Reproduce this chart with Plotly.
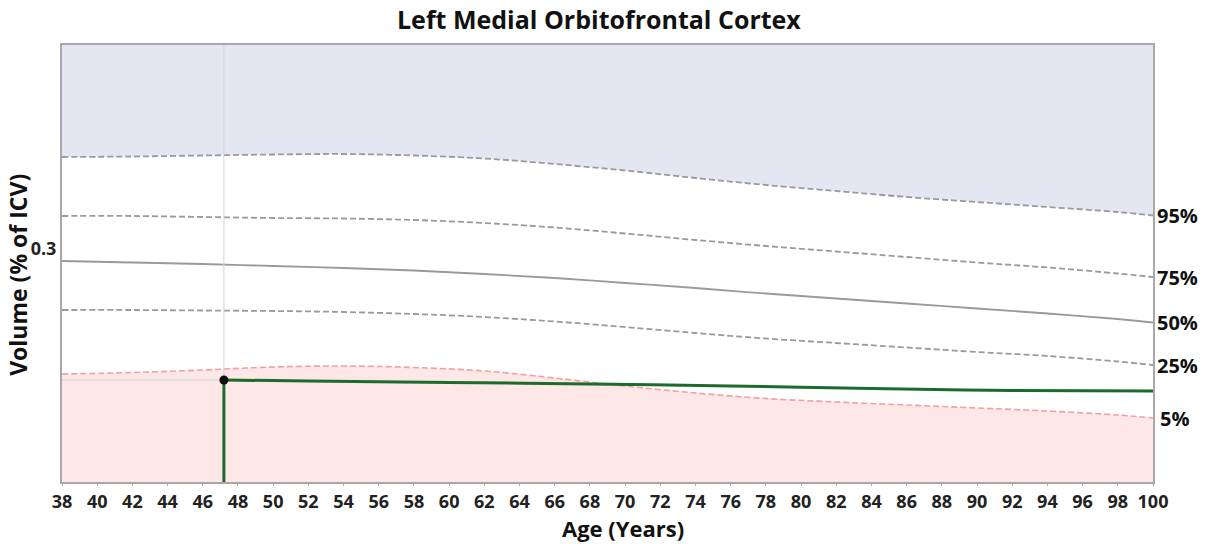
import plotly.graph_objects as go

# ---------------- data ----------------
ages = [38, 42, 46, 50, 54, 58, 62, 66, 70, 74, 78, 82, 86, 90, 94, 98, 100]
p95 = [0.3368, 0.3370, 0.3374, 0.3378, 0.3380, 0.3374, 0.3362, 0.3340, 0.3314,
       0.3284, 0.3256, 0.3232, 0.3208, 0.3188, 0.3168, 0.3148, 0.3134]
p75 = [0.3132, 0.3132, 0.3128, 0.3124, 0.3122, 0.3116, 0.3104, 0.3086, 0.3062,
       0.3036, 0.3012, 0.2990, 0.2968, 0.2946, 0.2926, 0.2902, 0.2888]
p50 = [0.2952, 0.2946, 0.2940, 0.2932, 0.2924, 0.2914, 0.2900, 0.2884, 0.2864,
       0.2844, 0.2822, 0.2802, 0.2782, 0.2762, 0.2742, 0.2720, 0.2706]
p25 = [0.2756, 0.2756, 0.2754, 0.2752, 0.2748, 0.2740, 0.2728, 0.2710, 0.2688,
       0.2664, 0.2642, 0.2624, 0.2606, 0.2588, 0.2572, 0.2550, 0.2536]
p05 = [0.2500, 0.2506, 0.2516, 0.2528, 0.2532, 0.2526, 0.2512, 0.2484, 0.2452,
       0.2424, 0.2402, 0.2388, 0.2376, 0.2364, 0.2352, 0.2336, 0.2324]

patient_ages = [47.2, 52, 60, 68, 76, 84, 92, 100]
patient_traj = [0.2476, 0.2472, 0.2466, 0.2460, 0.2452, 0.2442, 0.2434, 0.2432]
patient_age = 47.2
patient_vol = 0.2476

pct_labels = ["95%", "75%", "50%", "25%", "5%"]
x_ticks = list(range(38, 101, 2))
y_tickvals = [0.3]
y_ticktext = ["0.3"]

Y_MIN, Y_MAX = 0.2068, 0.3816
X_MIN, X_MAX = 38, 100

FONT = "Open Sans"
GRAY = "#9a9a9a"
GUIDE = "#d4d4d4"
DASH = "6px,3px"

fig = go.Figure()

# blue band above 95%
fig.add_trace(go.Scatter(x=ages, y=[Y_MAX] * len(ages), mode="lines",
                         line=dict(width=0), hoverinfo="skip", showlegend=False))
fig.add_trace(go.Scatter(x=ages, y=p95, mode="lines", fill="tonexty", fillcolor="#e4e7f1",
                         line=dict(color=GRAY, width=1.8, dash=DASH, shape="spline"),
                         showlegend=False))
# red band below 5%
fig.add_trace(go.Scatter(x=ages, y=p05, mode="lines", fill="tozeroy", fillcolor="#fde7e7",
                         line=dict(color="#f2a0a0", width=1.6, dash=DASH, shape="spline"),
                         showlegend=False))
for vals, dash in [(p75, DASH), (p50, "solid"), (p25, DASH)]:
    fig.add_trace(go.Scatter(x=ages, y=vals, mode="lines",
                             line=dict(color=GRAY, width=1.8, dash=dash, shape="spline"),
                             showlegend=False))

# guide lines at patient (as traces so they sit above the fills)
fig.add_trace(go.Scatter(x=[patient_age, patient_age], y=[Y_MIN, Y_MAX], mode="lines",
                         line=dict(color=GUIDE, width=1), hoverinfo="skip", showlegend=False))
fig.add_trace(go.Scatter(x=[X_MIN, patient_age], y=[patient_vol, patient_vol], mode="lines",
                         line=dict(color=GUIDE, width=1), hoverinfo="skip", showlegend=False))

# patient trajectory
fig.add_trace(go.Scatter(x=[patient_age, patient_age], y=[Y_MIN, patient_vol], mode="lines",
                         line=dict(color="#1d6b2c", width=3), showlegend=False))
fig.add_trace(go.Scatter(x=patient_ages, y=patient_traj, mode="lines",
                         line=dict(color="#1d6b2c", width=3, shape="spline"), showlegend=False))
fig.add_trace(go.Scatter(x=[patient_age], y=[patient_vol], mode="markers",
                         marker=dict(color="#111", size=9), showlegend=False))

# percentile labels
for lab, vals in zip(pct_labels, [p95, p75, p50, p25, p05]):
    fig.add_annotation(x=X_MAX, y=vals[-1], xref="x", yref="y", text=f"<b>{lab}</b>",
                       showarrow=False, xanchor="left", xshift=2 if lab != "5%" else 5,
                       font=dict(family=FONT, size=20, color="#111"))

# titles as annotations
fig.add_annotation(text="<b>Left Medial Orbitofrontal Cortex</b>", xref="paper", yref="paper",
                   x=0.492, y=1, yshift=26, xanchor="center", yanchor="middle", showarrow=False,
                   font=dict(family=FONT, size=25, color="#111"))
fig.add_annotation(text="<b>Age (Years)</b>", xref="paper", yref="paper",
                   x=0.514, y=0, yshift=-46, xanchor="center", yanchor="middle", showarrow=False,
                   font=dict(family=FONT, size=22, color="#111"))
fig.add_annotation(text="<b>Volume (% of ICV)</b>", xref="paper", yref="paper",
                   x=0, xshift=-44, y=0.474, xanchor="center", yanchor="middle", textangle=-90,
                   showarrow=False, font=dict(family=FONT, size=23, color="#111"))

fig.update_layout(
    width=1205, height=544,
    margin=dict(l=62, r=52, t=45, b=62, autoexpand=False),
    paper_bgcolor="white", plot_bgcolor="white",
    xaxis=dict(range=[X_MIN, X_MAX], tickvals=x_ticks, ticktext=[f"<b>{t}</b>" for t in x_ticks],
               tickfont=dict(family=FONT, size=18, color="#222"),
               ticks="outside", ticklen=2, tickcolor="#aaa", automargin=False,
               showgrid=False, zeroline=False, showline=True, mirror=True,
               linecolor="#a8a8a8", linewidth=2),
    yaxis=dict(range=[Y_MIN, Y_MAX], tickvals=y_tickvals, ticktext=[f"<b>{t}</b>" for t in y_ticktext],
               tickfont=dict(family=FONT, size=18, color="#222"), ticks="", automargin=False,
               showgrid=False, zeroline=False, showline=True, mirror=True,
               linecolor="#a8a8a8", linewidth=2),
)

fig.write_html("out.html", post_script="document.body.style.margin='0';",
               config={"displayModeBar": False})
